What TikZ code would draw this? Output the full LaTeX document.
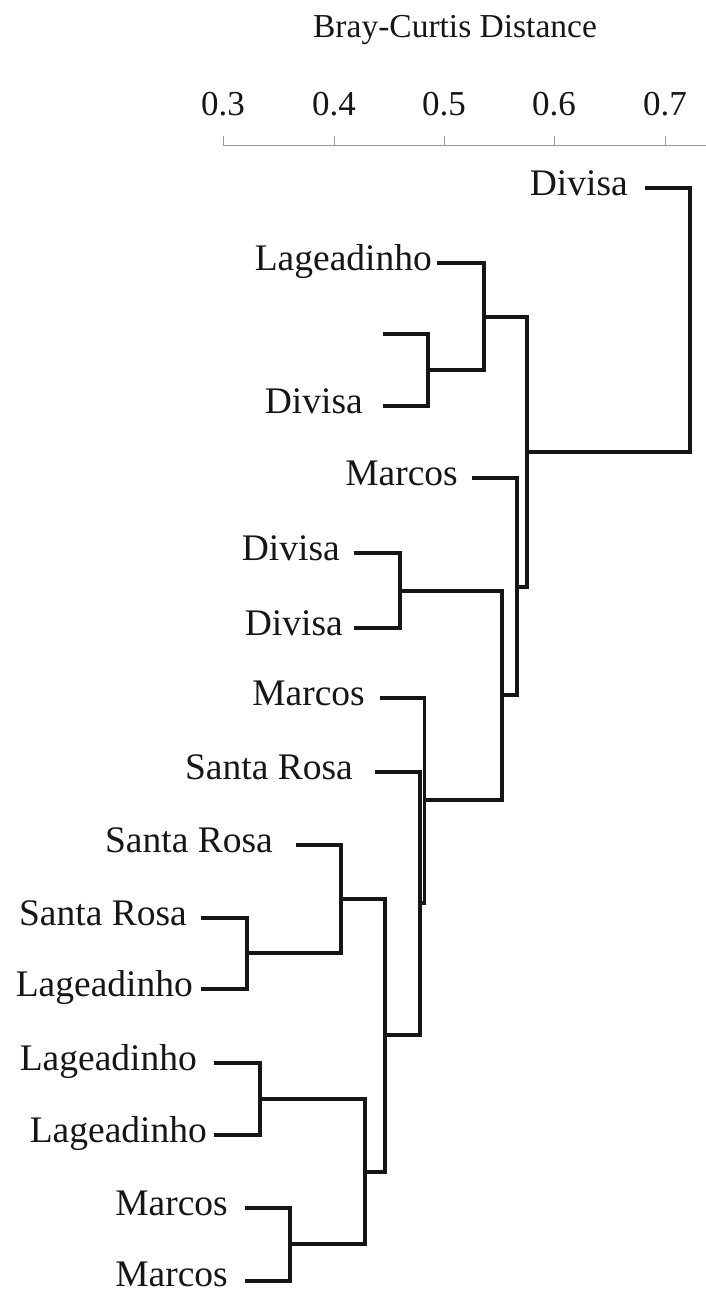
\documentclass[tikz,border=0pt]{standalone}
\usepackage{fontspec}
\setmainfont{Liberation Serif}
\definecolor{ink}{HTML}{161616}
\definecolor{axisgray}{HTML}{9A9A9A}
\begin{document}
\begin{tikzpicture}[x=1pt,y=-1pt,
  tree/.style={line width=3.3pt, draw=ink, line join=miter},
  leaf/.style={anchor=base east, inner sep=0pt, text=ink, font=\fontsize{37.5}{40}\selectfont},
  ticklabel/.style={anchor=base, inner sep=0pt, text=ink, font=\fontsize{35}{38}\selectfont},
  axisline/.style={line width=0.9pt, draw=axisgray}]
\useasboundingbox (0,0) rectangle (706,1293);

% distance axis
\node[anchor=base, inner sep=0pt, text=ink, font=\fontsize{33.5}{36}\selectfont] (title) at (455,37) {Bray-Curtis Distance};
\coordinate (a0) at (223,145);
\coordinate (aend) at (706,145);
\draw[axisline] (a0) -- (aend);
\foreach \v/\x in {0.3/223, 0.4/334, 0.5/444, 0.6/554, 0.7/665}{
  \coordinate (t\x) at (\x,145);
  \coordinate (tt\x) at (\x,136);
  \draw[axisline] (t\x) -- (tt\x);
  \node[ticklabel] (lab\x) at (\x,115) {\v};
}

% leaf labels
\node[leaf] (n1)  at (628,195)  {Divisa};
\node[leaf] (n2)  at (432,270)  {Lageadinho};
\node[leaf] (n4)  at (363,413)  {Divisa};
\node[leaf] (n5)  at (458,485)  {Marcos};
\node[leaf] (n6)  at (340,560)  {Divisa};
\node[leaf] (n7)  at (343,635)  {Divisa};
\node[leaf] (n8)  at (365,705)  {Marcos};
\node[leaf] (n9)  at (353,779)  {Santa Rosa};
\node[leaf] (n10) at (273,852)  {Santa Rosa};
\node[leaf] (n11) at (187,925)  {Santa Rosa};
\node[leaf] (n12) at (193,996)  {Lageadinho};
\node[leaf] (n13) at (197,1070) {Lageadinho};
\node[leaf] (n14) at (207,1142) {Lageadinho};
\node[leaf] (n15) at (228,1215) {Marcos};
\node[leaf] (n16) at (228,1286) {Marcos};

% leaf branch ends
\coordinate (l1)  at (645,188);
\coordinate (l2)  at (437,263);
\coordinate (l3)  at (383,334);
\coordinate (l4)  at (383,406);
\coordinate (l5)  at (472,478);
\coordinate (l6)  at (354,553);
\coordinate (l7)  at (354,628);
\coordinate (l8)  at (380,698);
\coordinate (l9)  at (375,772);
\coordinate (l10) at (296,845);
\coordinate (l11) at (201,918);
\coordinate (l12) at (201,989);
\coordinate (l13) at (214,1063);
\coordinate (l14) at (214,1135);
\coordinate (l15) at (245,1208);
\coordinate (l16) at (245,1281);

% merge points
\coordinate (j34)   at (428,370);
\coordinate (j234)  at (484,317);
\coordinate (j67)   at (400,591);
\coordinate (j1112) at (247,953);
\coordinate (j1012) at (341,899);
\coordinate (j1314) at (260,1099);
\coordinate (j1516) at (290,1244);
\coordinate (j1316) at (365,1172);
\coordinate (j1016) at (385,1035);
\coordinate (j916)  at (420,903);
\coordinate (j816)  at (424.7,800);
\coordinate (j616)  at (502,695);
\coordinate (j516)  at (517,587);
\coordinate (j216)  at (527,452);
\coordinate (root)  at (690,320);

% branches
\draw[tree] (l3) -- (l3 -| j34) -- (l4 -| j34) -- (l4);
\draw[tree] (l2) -- (l2 -| j234) -- (j34 -| j234) -- (j34);
\draw[tree] (l6) -- (l6 -| j67) -- (l7 -| j67) -- (l7);
\draw[tree] (l11) -- (l11 -| j1112) -- (l12 -| j1112) -- (l12);
\draw[tree] (l10) -- (l10 -| j1012) -- (j1112 -| j1012) -- (j1112);
\draw[tree] (l13) -- (l13 -| j1314) -- (l14 -| j1314) -- (l14);
\draw[tree] (l15) -- (l15 -| j1516) -- (l16 -| j1516) -- (l16);
\draw[tree] (j1314) -- (j1314 -| j1316) -- (j1516 -| j1316) -- (j1516);
\draw[tree] (j1012) -- (j1012 -| j1016) -- (j1316 -| j1016) -- (j1316);
\draw[tree] (l9) -- (l9 -| j916) -- (j1016 -| j916) -- (j1016);
\draw[tree] (l8) -- (l8 -| j816) -- (j916 -| j816) -- (j916);
\draw[tree] (j67) -- (j67 -| j616) -- (j816 -| j616) -- (j816);
\draw[tree] (l5) -- (l5 -| j516) -- (j616 -| j516) -- (j616);
\draw[tree] (j234) -- (j234 -| j216) -- (j516 -| j216) -- (j516);
\draw[tree] (l1) -- (l1 -| root) -- (j216 -| root) -- (j216);
\end{tikzpicture}
\end{document}
